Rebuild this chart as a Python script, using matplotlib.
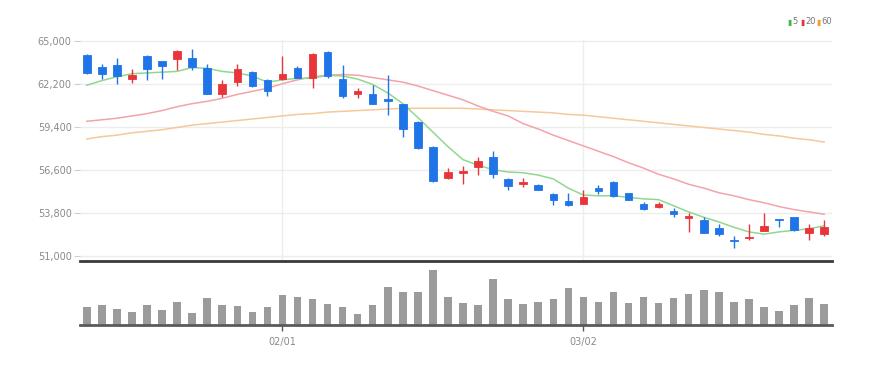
import matplotlib
matplotlib.use("Agg")
import matplotlib.pyplot as plt
from matplotlib.ticker import FixedLocator, FuncFormatter

# ---- data ----
opens  = [64050, 63300, 63400, 62500, 64000, 63650, 63800, 63850, 63200, 61550,
          62300, 62950, 62450, 62500, 63200, 62600, 64250, 62500, 61500, 61550,
          61200, 60850, 59700, 58100, 56050, 56400, 56750, 57400, 56000, 55650,
          55600, 55000, 54550, 54350, 55400, 55800, 55050, 54350, 54150, 53900,
          53450, 53300, 52800, 52050, 52150, 52600, 53400, 53500, 52500, 52400]
highs  = [64150, 63450, 63850, 63150, 64050, 63650, 64400, 64450, 63500, 62450,
          63500, 63000, 62500, 64000, 63350, 64200, 64300, 63400, 61900, 62100,
          62750, 60850, 59750, 58150, 56700, 56850, 57450, 57800, 56050, 56050,
          55650, 55050, 55100, 55300, 55600, 55850, 55100, 54500, 54500, 54100,
          53750, 53550, 53050, 52250, 53050, 53800, 53400, 53500, 53050, 53300]
lows   = [62800, 62500, 62200, 62250, 62450, 62500, 63100, 63100, 61500, 61350,
          62050, 62000, 61400, 62450, 62550, 61950, 62600, 61250, 61300, 60850,
          60150, 58750, 57950, 55800, 56000, 55650, 56250, 56050, 55300, 55450,
          55250, 54300, 54250, 54350, 55000, 54850, 54600, 53950, 54100, 53550,
          52550, 52450, 52300, 51500, 52000, 52600, 52850, 52600, 52050, 52250]
closes = [62900, 62800, 62700, 62750, 63150, 63350, 64350, 63300, 61550, 62150,
          63150, 62050, 61700, 62800, 62550, 64150, 62700, 61400, 61700, 60900,
          61050, 59250, 58000, 55850, 56450, 56500, 57150, 56300, 55550, 55800,
          55300, 54650, 54300, 54800, 55200, 54900, 54600, 54050, 54350, 53700,
          53600, 52500, 52400, 51950, 52200, 52950, 53350, 52650, 52800, 52850]
ma5    = [62100, 62400, 62650, 62850, 62900, 62950, 63000, 63250, 63200, 63000,
          62900, 62700, 62300, 62450, 62550, 62550, 62750, 62700, 62500, 62150,
          61600, 60900, 60000, 59050, 58100, 57250, 56900, 56600, 56450, 56400,
          56250, 56000, 55400, 54950, 54900, 54900, 54800, 54700, 54650, 54250,
          53850, 53500, 53200, 52850, 52550, 52400, 52550, 52650, 52750, 52950]
ma20   = [59750, 59850, 59950, 60100, 60250, 60450, 60700, 60900, 61050, 61250,
          61500, 61700, 61900, 62200, 62450, 62650, 62750, 62800, 62750, 62600,
          62450, 62300, 62050, 61750, 61450, 61150, 60750, 60400, 60100, 59600,
          59250, 58850, 58500, 58150, 57800, 57450, 57050, 56700, 56300, 56000,
          55650, 55400, 55100, 54900, 54650, 54450, 54200, 54000, 53850, 53700]
ma60   = [58600, 58750, 58850, 59000, 59100, 59200, 59350, 59500, 59600, 59700,
          59800, 59900, 60000, 60100, 60200, 60250, 60350, 60400, 60450, 60500,
          60550, 60600, 60600, 60600, 60600, 60600, 60550, 60500, 60450, 60400,
          60350, 60300, 60200, 60150, 60050, 59950, 59850, 59750, 59650, 59550,
          59450, 59350, 59250, 59150, 59050, 58900, 58800, 58650, 58550, 58400]
volumes = [53, 60, 48, 39, 58, 45, 67, 37, 80, 60,
           55, 39, 53, 89, 82, 78, 62, 53, 32, 58,
           114, 99, 99, 164, 82, 65, 59, 137, 78, 62,
           69, 78, 109, 82, 67, 99, 65, 82, 65, 80,
           92, 103, 97, 67, 78, 52, 42, 59, 80, 62]
date_ticks = [13, 33]
date_labels = ["02/01", "03/02"]
price_ticks = [51000, 53800, 56600, 59400, 62200, 65000]
ma_labels = ["5", "20", "60"]

# ---- styles ----
UP = "#e8353a"
DOWN = "#1f74e8"
C5 = "#8fd88f"
C20 = "#f3a3ab"
C60 = "#f6c89a"
TXT = "#8a8a8a"
GRID = "#ededed"

W, H = 886, 365
fig = plt.figure(figsize=(W / 100, H / 100), dpi=100)
font = ["Liberation Sans Narrow", "DejaVu Sans"]

def frac(x0, y0, x1, y1):
    return [x0 / W, 1 - y1 / H, (x1 - x0) / W, (y1 - y0) / H]

ax = fig.add_axes(frac(80, 40, 832, 261))
axv = fig.add_axes(frac(80, 267, 832, 325))

n = len(closes)
idx = list(range(n))
xlim = (-0.45, n - 0.48)

# candles
for i in idx:
    o, h, l, c = opens[i], highs[i], lows[i], closes[i]
    col = UP if c >= o else DOWN
    ax.vlines(i, l, h, color=col, linewidth=1.0, zorder=3)
    bottom = min(o, c)
    height = max(abs(c - o), 60)
    ax.bar(i, height, bottom=bottom, width=0.5, color=col, edgecolor=col,
           linewidth=0.6, zorder=4)

ax.plot(idx, ma60, color=C60, linewidth=1.1, zorder=2)
ax.plot(idx, ma20, color=C20, linewidth=1.1, zorder=2)
ax.plot(idx, ma5, color=C5, linewidth=1.1, zorder=2)

ax.set_xlim(*xlim)
ax.set_ylim(50654, 65045)
ax.yaxis.set_major_locator(FixedLocator(price_ticks))
ax.yaxis.set_major_formatter(FuncFormatter(lambda v, p: f"{int(v):,}"))
ax.xaxis.set_major_locator(FixedLocator(date_ticks))
ax.grid(True, axis="both", color=GRID, linewidth=1.0, zorder=0)
ax.tick_params(axis="x", length=0, labelbottom=False)
ax.tick_params(axis="y", length=4, color="#d0d0d0", pad=2, labelsize=7,
               labelcolor=TXT)
for lab in ax.get_yticklabels():
    lab.set_family(font)
for s in ["top", "right", "left"]:
    ax.spines[s].set_visible(False)
ax.spines["bottom"].set_color("#3a3a3a")
ax.spines["bottom"].set_linewidth(2.0)

# volume
axv.bar(idx, volumes, width=0.5, color="#9b9b9b", zorder=2)
axv.set_xlim(*xlim)
axv.set_ylim(0, max(volumes) * 1.05)
axv.set_yticks([])
axv.xaxis.set_major_locator(FixedLocator(date_ticks))
axv.set_xticklabels(date_labels)
axv.tick_params(axis="x", length=4, color="#555555", width=1, pad=4.5,
                labelsize=7, labelcolor=TXT)
for lab in axv.get_xticklabels():
    lab.set_family(font)
for s in ["top", "right", "left"]:
    axv.spines[s].set_visible(False)
axv.spines["bottom"].set_color("#5a5a5a")
axv.spines["bottom"].set_linewidth(2.0)

# legend (top right)
leg_x = [787, 800, 816]
for x0, lab, col in zip(leg_x, ma_labels, ["#3cba45", "#e8353a", "#f39a2b"]):
    fig.text(x0 / W, 1 - 22 / H, "\u25AE", color=col, fontsize=5.5,
             ha="left", va="center", family="DejaVu Sans")
    fig.text((x0 + 5) / W, 1 - 22 / H, lab, color="#777777", fontsize=6,
             ha="left", va="center", family=font)

fig.savefig("out.png", dpi=100, facecolor="white")
